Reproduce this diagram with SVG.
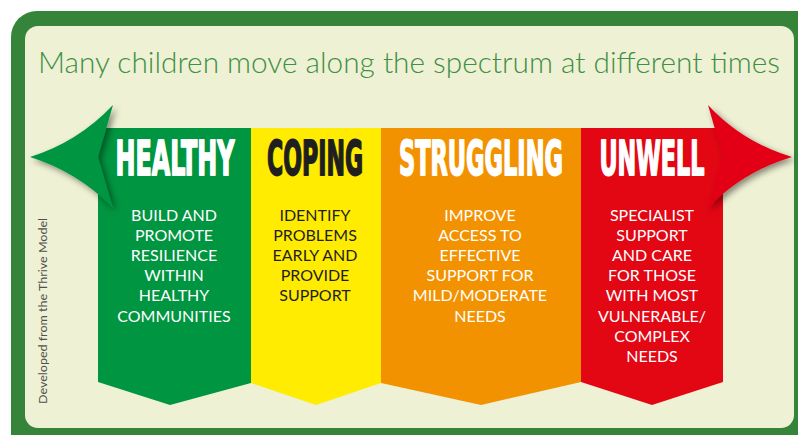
<svg xmlns="http://www.w3.org/2000/svg" width="798" height="435" viewBox="0 0 798 435">
  <style>
    .hdr { font-family: "DejaVu Sans Condensed", "Liberation Sans Narrow", "DejaVu Sans", sans-serif; font-weight: bold; font-size: 27px; text-anchor: middle; stroke-width: 1; stroke-linejoin: round; }
    .body { font-family: Lato, "Open Sans", "DejaVu Sans", sans-serif; font-size: 16px; text-anchor: middle; }
    .w { fill: #ffffff; }
    .wh { fill: #ffffff; stroke: #ffffff; }
    .dk { fill: #1f1f1f; }
    .dkh { fill: #1f1f1f; stroke: #1f1f1f; }
  </style>
  <defs>
    <filter id="sh" x="-30%" y="-30%" width="160%" height="160%">
      <feDropShadow dx="3" dy="3" stdDeviation="3" flood-color="#000000" flood-opacity="0.45"/>
    </filter>
  </defs>

  <!-- frame -->
  <rect x="11" y="11" width="812" height="450" rx="26" fill="#35843a"/>
  <rect x="25" y="26" width="769" height="402" rx="13" fill="#eff1d4"/>

  <text x="38" y="73" textLength="742" lengthAdjust="spacingAndGlyphs" font-family="Lato, 'Open Sans', sans-serif" font-weight="300" font-size="30" fill="#3f8f45">Many children move along the spectrum at different times</text>

  <text transform="translate(47,311) rotate(-90)" text-anchor="middle" textLength="186" lengthAdjust="spacingAndGlyphs" font-family="Lato, 'Open Sans', sans-serif" font-size="12" fill="#505050">Developed from the Thrive Model</text>

  <!-- columns -->
  <g id="healthy">
    <polygon points="98,128 251,128 251,383 170,405 98,382" fill="#009540"/>
    <text class="hdr wh" transform="translate(175,175) scale(1,1.8)" textLength="119" lengthAdjust="spacingAndGlyphs">HEALTHY</text>
    <g class="body w">
      <text x="174" y="221">BUILD AND</text>
      <text x="174" y="241">PROMOTE</text>
      <text x="174" y="261">RESILIENCE</text>
      <text x="174" y="281">WITHIN</text>
      <text x="174" y="301">HEALTHY</text>
      <text x="174" y="322">COMMUNITIES</text>
    </g>
  </g>

  <g id="coping">
    <polygon points="251,128 381,128 381,383 316,405 251,383" fill="#ffec00"/>
    <text class="hdr dkh" transform="translate(315,175) scale(1,1.8)" textLength="96" lengthAdjust="spacingAndGlyphs">COPING</text>
    <g class="body dk">
      <text x="315" y="221">IDENTIFY</text>
      <text x="315" y="241">PROBLEMS</text>
      <text x="315" y="261">EARLY AND</text>
      <text x="315" y="281">PROVIDE</text>
      <text x="315" y="301">SUPPORT</text>
    </g>
  </g>

  <g id="struggling">
    <polygon points="381,128 581,128 581,382 481,405 381,383" fill="#f39200"/>
    <text class="hdr wh" transform="translate(481,175) scale(1,1.8)" textLength="164" lengthAdjust="spacingAndGlyphs">STRUGGLING</text>
    <g class="body w">
      <text x="480" y="221">IMPROVE</text>
      <text x="480" y="241">ACCESS TO</text>
      <text x="480" y="261">EFFECTIVE</text>
      <text x="480" y="281">SUPPORT FOR</text>
      <text x="480" y="301">MILD/MODERATE</text>
      <text x="480" y="322">NEEDS</text>
    </g>
  </g>

  <g id="unwell">
    <polygon points="581,128 723,128 723,382 652,405 581,382" fill="#e30613"/>
    <text class="hdr wh" transform="translate(652,175) scale(1,1.8)" textLength="105" lengthAdjust="spacingAndGlyphs">UNWELL</text>
    <g class="body w">
      <text x="652" y="221">SPECIALIST</text>
      <text x="652" y="241">SUPPORT</text>
      <text x="652" y="261">AND CARE</text>
      <text x="652" y="281">FOR THOSE</text>
      <text x="652" y="301">WITH MOST</text>
      <text x="652" y="322">VULNERABLE/</text>
      <text x="652" y="342">COMPLEX</text>
      <text x="652" y="362">NEEDS</text>
    </g>
  </g>

  <!-- arrowheads -->
  <g id="arrows" filter="url(#sh)">
    <path d="M30,157 Q78,142 113,105 L98,157 L113,208 Q78,172 30,157 Z" fill="#009540"/>
    <path d="M792,157 Q742,142 708,105 L723,157 L708,208 Q742,172 792,157 Z" fill="#e30613"/>
  </g>
</svg>
